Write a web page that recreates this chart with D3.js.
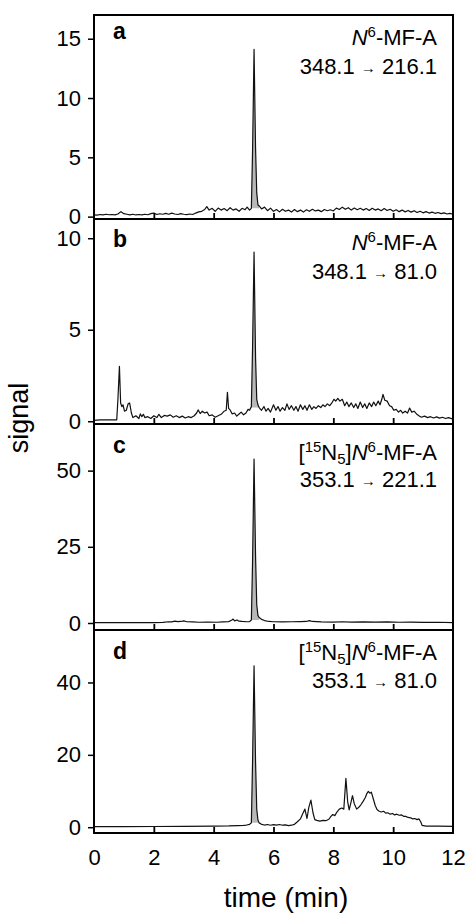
<!doctype html>
<html>
  <head>
    <meta charset="utf-8">
    <title>chromatograms</title>
    <script src="https://d3js.org/d3.v7.min.js"></script>
    <style type="text/css">
      body { margin: 0; background-color: #ffffff; }
      text { font-family: "Liberation Sans", Arial, sans-serif; fill: #000; }
    </style>
  </head>
  <body>
    <script>
      // time axis ticks (min)
      var timeTicks = [0, 2, 4, 6, 8, 10, 12];

      // panel labels and annotations
      var panelLetters = ["a", "b", "c", "d"];
      var compounds = [
        "<i>N</i><sup>6</sup>-MF-A",
        "<i>N</i><sup>6</sup>-MF-A",
        "[<sup>15</sup>N<sub>5</sub>]<i>N</i><sup>6</sup>-MF-A",
        "[<sup>15</sup>N<sub>5</sub>]<i>N</i><sup>6</sup>-MF-A"
      ];
      var transitions = [
        ["348.1", "216.1"],
        ["348.1", "81.0"],
        ["353.1", "221.1"],
        ["353.1", "81.0"]
      ];

      // y tick values per panel
      var yTicksA = [0, 5, 10, 15];
      var yTicksB = [0, 5, 10];
      var yTicksC = [0, 25, 50];
      var yTicksD = [0, 20, 40];

      // window of the shaded analyte peak (min)
      var peakWindow = [5.22, 5.52];

      // [time (min), signal]
      var signalA = [[0.0,0.15],[0.1,0.12],[0.2,0.18],[0.3,0.15],[0.4,0.2],[0.5,0.16],[0.6,0.18],[0.7,0.15],[0.8,0.22],[0.9,0.42],[1.0,0.25],[1.1,0.2],[1.2,0.15],[1.3,0.2],[1.4,0.14],[1.5,0.18],[1.6,0.15],[1.7,0.2],[1.8,0.16],[1.9,0.25],[2.0,0.3],[2.1,0.18],[2.2,0.24],[2.3,0.2],[2.4,0.27],[2.5,0.2],[2.6,0.3],[2.7,0.22],[2.8,0.18],[2.9,0.25],[3.0,0.2],[3.1,0.17],[3.2,0.22],[3.3,0.18],[3.4,0.3],[3.5,0.4],[3.6,0.45],[3.7,0.6],[3.77,0.85],[3.85,0.55],[3.95,0.7],[4.05,0.45],[4.15,0.72],[4.25,0.55],[4.35,0.68],[4.45,0.5],[4.55,0.75],[4.65,0.55],[4.75,0.65],[4.85,0.45],[4.95,0.7],[5.05,0.58],[5.12,0.8],[5.2,0.55],
        [5.26,0.7],[5.30,5.5],[5.35,14.1],[5.40,5.8],[5.44,2.0],[5.48,1.0],[5.52,0.9],
        [5.6,0.65],[5.7,0.8],[5.8,0.5],[5.9,0.72],[6.0,0.45],[6.1,0.6],[6.2,0.4],[6.3,0.62],[6.4,0.45],[6.5,0.55],[6.6,0.38],[6.7,0.6],[6.8,0.42],[6.9,0.55],[7.0,0.38],[7.1,0.58],[7.2,0.45],[7.3,0.62],[7.4,0.48],[7.5,0.55],[7.6,0.42],[7.7,0.6],[7.8,0.5],[7.9,0.58],[8.0,0.48],[8.1,0.72],[8.2,0.6],[8.3,0.8],[8.4,0.62],[8.5,0.75],[8.6,0.55],[8.7,0.72],[8.8,0.58],[8.9,0.7],[9.0,0.55],[9.1,0.68],[9.2,0.52],[9.3,0.7],[9.4,0.55],[9.5,0.65],[9.6,0.5],[9.7,0.68],[9.8,0.52],[9.9,0.62],[10.0,0.45],[10.1,0.58],[10.2,0.42],[10.3,0.55],[10.4,0.4],[10.5,0.52],[10.6,0.38],[10.7,0.5],[10.8,0.35],[10.9,0.45],[11.0,0.32],[11.1,0.42],[11.2,0.3],[11.3,0.38],[11.4,0.28],[11.5,0.35],[11.6,0.25],[11.7,0.32],[11.8,0.22],[11.9,0.28],[12.0,0.2]];

      var signalB = [[0.0,0.05],[0.2,0.08],[0.4,0.07],[0.6,0.08],[0.76,0.08],[0.8,1.2],[0.85,3.0],[0.89,1.0],[0.93,0.8],[0.97,0.9],[1.02,0.55],[1.08,0.6],[1.14,0.95],[1.19,1.0],[1.25,0.45],[1.3,0.2],[1.4,0.3],[1.5,0.15],[1.55,0.4],[1.6,0.25],[1.65,0.38],[1.7,0.2],[1.8,0.25],[1.9,0.15],[2.0,0.3],[2.1,0.2],[2.17,0.38],[2.25,0.2],[2.35,0.32],[2.45,0.28],[2.55,0.35],[2.65,0.22],[2.75,0.3],[2.85,0.2],[2.95,0.28],[3.05,0.18],[3.15,0.25],[3.25,0.2],[3.35,0.3],[3.43,0.45],[3.48,0.62],[3.55,0.42],[3.62,0.55],[3.7,0.45],[3.78,0.5],[3.85,0.3],[3.95,0.35],[4.05,0.22],[4.15,0.3],[4.25,0.38],[4.35,0.55],[4.42,0.6],[4.46,1.58],[4.5,0.7],[4.55,0.62],[4.62,0.4],[4.7,0.45],[4.77,0.28],[4.85,0.4],[4.92,0.5],[5.0,0.35],[5.08,0.45],[5.15,0.65],[5.2,0.6],
        [5.26,0.8],[5.30,4.0],[5.35,9.24],[5.40,3.5],[5.44,1.2],[5.48,0.9],[5.52,0.75],
        [5.6,0.6],[5.68,0.8],[5.75,0.55],[5.82,0.7],[5.9,0.5],[6.0,0.9],[6.08,0.6],[6.15,0.8],[6.22,0.55],[6.3,0.75],[6.38,0.6],[6.45,0.95],[6.52,0.65],[6.6,0.85],[6.68,0.6],[6.75,0.8],[6.82,0.55],[6.9,0.9],[6.98,0.65],[7.05,0.85],[7.12,0.6],[7.2,0.9],[7.28,0.65],[7.35,0.8],[7.42,0.7],[7.5,0.85],[7.58,0.75],[7.65,0.9],[7.72,0.8],[7.8,0.95],[7.88,0.85],[7.95,1.0],[8.02,1.2],[8.08,1.1],[8.15,1.25],[8.22,1.1],[8.3,1.2],[8.38,0.85],[8.45,1.05],[8.52,0.8],[8.6,1.0],[8.68,0.75],[8.75,0.95],[8.82,0.7],[8.9,1.05],[8.98,0.75],[9.05,0.95],[9.12,0.7],[9.2,1.0],[9.28,0.8],[9.35,1.05],[9.42,0.85],[9.5,1.1],[9.56,0.9],[9.62,1.2],[9.66,1.47],[9.72,1.15],[9.8,1.1],[9.88,0.85],[9.95,0.8],[10.02,0.6],[10.1,0.65],[10.18,0.5],[10.25,0.6],[10.32,0.45],[10.4,0.55],[10.48,0.45],[10.55,0.72],[10.62,0.5],[10.7,0.55],[10.78,0.4],[10.86,0.3],[10.94,0.22],[11.05,0.28],[11.15,0.2],[11.25,0.25],[11.35,0.18],[11.45,0.24],[11.55,0.17],[11.65,0.22],[11.75,0.15],[11.85,0.2],[12.0,0.12]];

      var signalC = [[0.0,0.1],[0.5,0.15],[1.0,0.1],[1.5,0.15],[2.0,0.1],[2.3,0.2],[2.5,0.4],[2.6,0.35],[2.7,0.6],[2.8,0.45],[2.9,0.5],[3.0,0.7],[3.1,0.4],[3.3,0.35],[3.5,0.25],[3.8,0.3],[4.1,0.25],[4.3,0.35],[4.5,0.45],[4.6,0.9],[4.65,1.3],[4.7,0.7],[4.78,1.0],[4.85,0.6],[4.95,0.5],[5.1,0.4],[5.2,0.45],
        [5.26,1.0],[5.30,20],[5.35,53.8],[5.40,22],[5.44,6],[5.48,2.5],[5.52,1.8],
        [5.6,1.2],[5.7,0.8],[5.85,0.5],[6.0,0.4],[6.3,0.35],[6.6,0.4],[6.9,0.45],[7.1,0.5],[7.2,0.8],[7.3,0.5],[7.6,0.35],[8.0,0.3],[8.3,0.4],[8.6,0.3],[9.0,0.35],[9.4,0.3],[9.8,0.35],[10.2,0.25],[10.6,0.3],[11.0,0.2],[11.5,0.25],[12.0,0.15]];

      var signalD = [[0.0,0.15],[1.0,0.18],[2.0,0.2],[3.0,0.22],[4.0,0.3],[4.5,0.35],[4.8,0.45],[5.0,0.5],[5.1,0.6],[5.2,0.8],
        [5.26,1.2],[5.30,18],[5.35,44.6],[5.40,18],[5.44,5],[5.48,2.0],[5.52,1.2],
        [5.6,0.8],[5.7,0.6],[5.8,0.75],[5.9,0.55],[6.0,0.7],[6.1,0.6],[6.2,0.75],[6.3,0.55],[6.4,0.65],[6.5,0.45],[6.6,0.55],[6.7,0.8],[6.8,1.5],[6.9,2.3],[6.98,3.8],[7.05,5.0],[7.12,2.4],[7.18,5.5],[7.25,7.5],[7.32,4.0],[7.38,2.1],[7.45,1.9],[7.55,1.7],[7.65,1.9],[7.75,1.8],[7.85,2.2],[7.92,3.0],[7.98,3.5],[8.05,3.2],[8.12,4.2],[8.2,5.0],[8.28,5.3],[8.35,5.0],[8.42,13.5],[8.48,7.0],[8.53,4.8],[8.58,6.5],[8.64,8.7],[8.7,6.5],[8.78,5.0],[8.85,5.5],[8.92,6.2],[9.0,7.2],[9.07,8.2],[9.12,9.3],[9.17,9.9],[9.22,9.4],[9.27,9.7],[9.33,8.0],[9.4,6.0],[9.46,4.9],[9.52,4.5],[9.6,4.2],[9.68,4.4],[9.75,3.9],[9.82,4.0],[9.9,3.6],[9.98,3.8],[10.05,3.4],[10.12,3.6],[10.2,3.3],[10.28,3.4],[10.35,3.0],[10.42,3.0],[10.5,2.7],[10.58,2.6],[10.65,2.3],[10.72,2.4],[10.8,2.1],[10.86,2.3],[10.92,1.5],[10.97,0.5],[11.1,0.3],[11.5,0.3],[12.0,0.25]];

      // layout
      var w = 468;
      var h = 915;
      var left = 94, right = 453;
      var panelEdges = [15, 219, 424, 630, 833];
      var yDomains = [[-0.2, 17.0], [-0.15, 11.05], [-2.3, 65.3], [-1.6, 54.5]];
      var letterDy = [24, 28, 29, 29];
      var noteDy = [[30, 59], [31, 60], [36, 63], [30, 58]];

      var panels = [
        { letter: panelLetters[0], compound: compounds[0], mrm: transitions[0], ticks: yTicksA, values: signalA },
        { letter: panelLetters[1], compound: compounds[1], mrm: transitions[1], ticks: yTicksB, values: signalB },
        { letter: panelLetters[2], compound: compounds[2], mrm: transitions[2], ticks: yTicksC, values: signalC },
        { letter: panelLetters[3], compound: compounds[3], mrm: transitions[3], ticks: yTicksD, values: signalD }
      ];

      var svg = d3.select("body")
        .append("svg")
        .attr("width", w)
        .attr("height", h);

      var x = d3.scaleLinear().domain([0, 12]).range([left, right]);

      // write "<i>..</i><sup>..</sup><sub>..</sub>" markup as tspans
      function richText(sel, markup) {
        var parts = markup.split(/(<\/?(?:i|sup|sub)>)/).filter(function(s) { return s !== ""; });
        var mode = "";
        var shift = 0;
        parts.forEach(function(p) {
          if (p === "<i>" || p === "<sup>" || p === "<sub>") { mode = p.slice(1, -1); return; }
          if (p.charAt(0) === "<") { mode = ""; return; }
          var target = mode === "sup" ? -8 : mode === "sub" ? 4 : 0;
          var t = sel.append("tspan").text(p).attr("dy", target - shift);
          shift = target;
          if (mode === "i") t.style("font-style", "italic");
          if (mode === "sup" || mode === "sub") t.style("font-size", "15px");
        });
      }

      panels.forEach(function(p, i) {
        var top = panelEdges[i], bottom = panelEdges[i + 1];
        var y = d3.scaleLinear().domain(yDomains[i]).range([bottom, top]);
        var g = svg.append("g");

        g.append("clipPath").attr("id", "clip" + i)
          .append("rect")
          .attr("x", left).attr("y", top)
          .attr("width", right - left).attr("height", bottom - top);

        var plot = g.append("g").attr("clip-path", "url(#clip" + i + ")");

        // shaded analyte peak
        var peak = p.values.filter(function(d) { return d[0] >= peakWindow[0] && d[0] <= peakWindow[1]; });
        var base = Math.min(peak[0][1], peak[peak.length - 1][1]);
        plot.append("path")
          .datum(peak)
          .attr("d", d3.area()
            .x(function(d) { return x(d[0]); })
            .y0(y(base))
            .y1(function(d) { return y(d[1]); }))
          .style("fill", "#b8b8b8")
          .style("stroke", "none");

        plot.append("path")
          .datum(p.values)
          .attr("d", d3.line()
            .x(function(d) { return x(d[0]); })
            .y(function(d) { return y(d[1]); }))
          .style("fill", "none")
          .style("stroke", "#111")
          .style("stroke-width", 1.2)
          .style("stroke-linejoin", "round");

        // inward time ticks on the panel bottom
        var tickTop = g.append("g")
          .attr("transform", "translate(0," + bottom + ")")
          .call(d3.axisTop(x).tickValues(timeTicks.slice(1, -1)).tickSize(6).tickFormat(""));
        tickTop.select(".domain").remove();
        tickTop.selectAll("line").style("stroke", "#000").style("stroke-width", 1.8);

        // y axis
        var ya = g.append("g")
          .attr("transform", "translate(" + left + ",0)")
          .call(d3.axisLeft(y).tickValues(p.ticks).tickSize(6).tickPadding(7));
        ya.select(".domain").remove();
        ya.selectAll("line").style("stroke", "#000").style("stroke-width", 1.5);
        ya.selectAll("text")
          .style("font-size", "22px")
          .style("font-family", "'Liberation Sans', Arial, sans-serif")
          .attr("fill", "#000");

        // frame
        g.append("rect")
          .attr("x", left).attr("y", top)
          .attr("width", right - left).attr("height", bottom - top)
          .style("fill", "none")
          .style("stroke", "#000")
          .style("stroke-width", 2);

        // panel letter
        g.append("text")
          .attr("x", 113)
          .attr("y", top + letterDy[i])
          .style("font-size", "23px")
          .style("font-weight", "bold")
          .text(p.letter);

        // compound and transition
        var note = g.append("text")
          .attr("x", 437)
          .attr("y", top + noteDy[i][0])
          .attr("text-anchor", "end")
          .style("font-size", "22px");
        richText(note, p.compound);

        var mrm = g.append("text")
          .attr("x", 437)
          .attr("y", top + noteDy[i][1])
          .attr("text-anchor", "end")
          .style("font-size", "22px");
        mrm.append("tspan").text(p.mrm[0] + " ");
        mrm.append("tspan").text("\u2192").style("font-size", "15px").attr("dy", -1);
        mrm.append("tspan").text(" " + p.mrm[1]).attr("dy", 1);

        if (i === panels.length - 1) {
          var xa = g.append("g")
            .attr("transform", "translate(0," + bottom + ")")
            .call(d3.axisBottom(x).tickValues(timeTicks).tickSize(0).tickPadding(16));
          xa.select(".domain").remove();
          xa.selectAll("text")
            .style("font-size", "22px")
            .style("font-family", "'Liberation Sans', Arial, sans-serif")
            .attr("fill", "#000");
        }
      });

      // axis titles
      svg.append("text")
        .attr("x", 286)
        .attr("y", 907)
        .attr("text-anchor", "middle")
        .style("font-size", "28px")
        .text("time (min)");

      svg.append("text")
        .attr("transform", "translate(28,418) rotate(-90)")
        .attr("text-anchor", "middle")
        .style("font-size", "27px")
        .text("signal");
    </script>
  </body>
</html>
